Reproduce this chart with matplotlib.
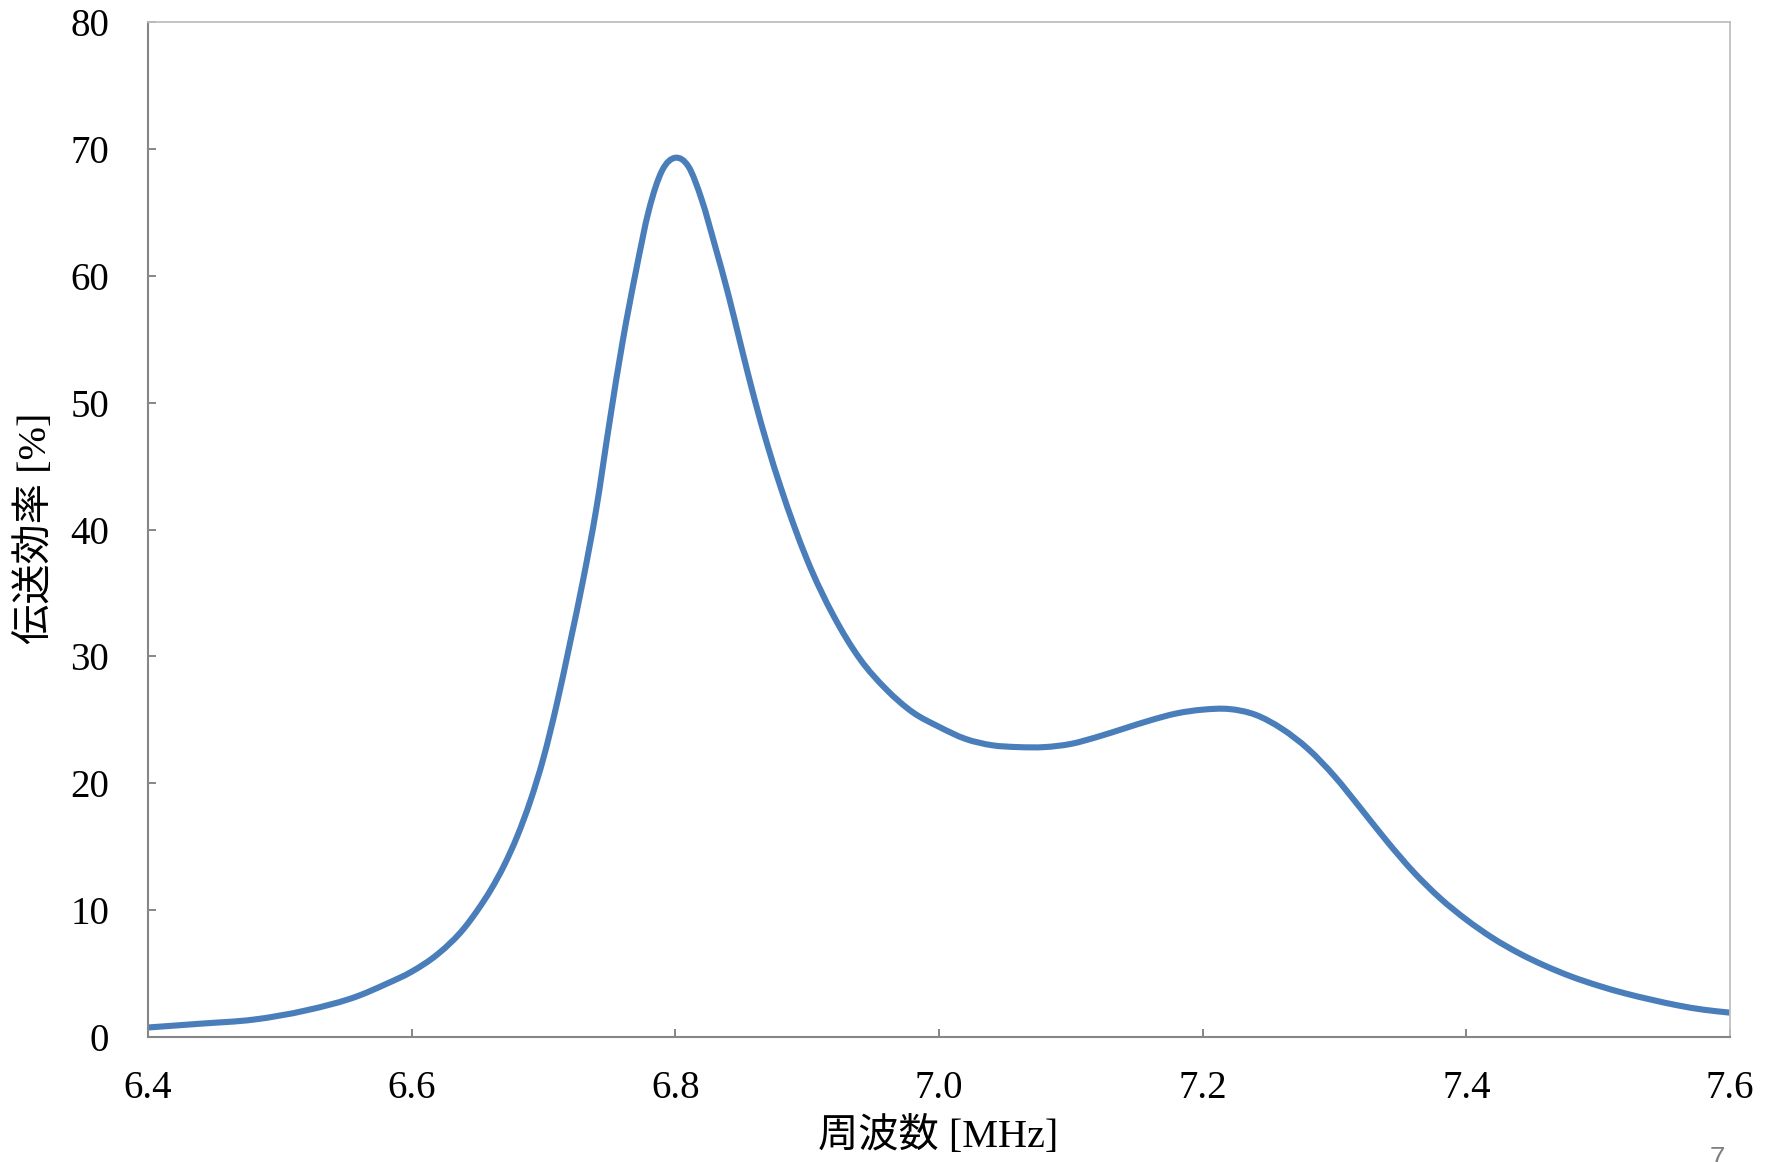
import matplotlib
matplotlib.use("Agg")
import matplotlib.pyplot as plt
import numpy as np
from matplotlib.patches import PathPatch
from matplotlib.path import Path
from matplotlib.ticker import FormatStrFormatter

# frequency [MHz] and transmission efficiency [%]
freq = [6.40, 6.44, 6.48, 6.52, 6.56, 6.58, 6.60, 6.62, 6.64, 6.65,
        6.66, 6.67, 6.68, 6.69, 6.70, 6.71, 6.72, 6.73, 6.74, 6.75,
        6.76, 6.77, 6.78, 6.79, 6.80, 6.81, 6.82, 6.83, 6.84, 6.85,
        6.86, 6.87, 6.88, 6.89, 6.90, 6.92, 6.94, 6.96, 6.98, 7.00,
        7.02, 7.04, 7.06, 7.08, 7.10, 7.12, 7.14, 7.16, 7.18, 7.20,
        7.22, 7.24, 7.26, 7.28, 7.30, 7.32, 7.34, 7.36, 7.38, 7.40,
        7.42, 7.44, 7.46, 7.48, 7.50, 7.52, 7.54, 7.56, 7.58, 7.60]
efficiency = [0.75, 1.05, 1.37, 2.1, 3.26, 4.15, 5.15, 6.55, 8.6, 10.0,
              11.6, 13.5, 15.8, 18.6, 22.0, 26.2, 31.0, 36.0, 41.6, 48.4,
              54.8, 60.3, 65.2, 68.3, 69.3, 68.6, 66.0, 62.4, 58.6, 54.4,
              50.3, 46.6, 43.3, 40.3, 37.6, 33.2, 29.8, 27.4, 25.6, 24.45,
              23.5, 23.0, 22.85, 22.85, 23.1, 23.65, 24.3, 24.95, 25.5, 25.8,
              25.85, 25.4, 24.3, 22.7, 20.55, 18.0, 15.4, 13.0, 10.95, 9.25,
              7.8, 6.6, 5.6, 4.75, 4.05, 3.45, 2.95, 2.5, 2.15, 1.92]

x_ticks = [6.4, 6.6, 6.8, 7.0, 7.2, 7.4, 7.6]
y_ticks = [0, 10, 20, 30, 40, 50, 60, 70, 80]

FONT = ["Liberation Serif", "Noto Sans CJK JP", "DejaVu Sans"]
plt.rcParams["font.family"] = FONT


def smooth_path(xs, ys):
    """Smoothed line like Excel's: cubic Bezier segments through every point,
    tangents from the neighbouring secants (handles uneven spacing)."""
    x = np.asarray(xs, dtype=float)
    y = np.asarray(ys, dtype=float)
    h = np.diff(x)
    d = np.diff(y) / h
    m = np.empty_like(y)
    m[0], m[-1] = d[0], d[-1]
    m[1:-1] = (d[:-1] * h[1:] + d[1:] * h[:-1]) / (h[:-1] + h[1:])
    verts = [(x[0], y[0])]
    codes = [Path.MOVETO]
    for i in range(len(x) - 1):
        k = h[i] / 3.0
        verts += [(x[i] + k, y[i] + k * m[i]),
                  (x[i + 1] - k, y[i + 1] - k * m[i + 1]),
                  (x[i + 1], y[i + 1])]
        codes += [Path.CURVE4] * 3
    return Path(verts, codes)


fig = plt.figure(figsize=(17.71, 11.62), dpi=100)
ax = fig.add_axes([148 / 1771, 1 - 1037 / 1162, 1582 / 1771, 1015 / 1162])

curve = PathPatch(smooth_path(freq, efficiency), facecolor="none",
                  edgecolor="#4a7ebb", lw=4.4, joinstyle="round",
                  capstyle="butt")
ax.add_patch(curve)

ax.set_xlim(6.4, 7.6)
ax.set_ylim(0, 80)
ax.set_xticks(x_ticks)
ax.set_yticks(y_ticks)
ax.xaxis.set_major_formatter(FormatStrFormatter("%.1f"))

for side in ("left", "bottom"):
    ax.spines[side].set_color("#868686")
    ax.spines[side].set_linewidth(1.5)
for side in ("top", "right"):
    ax.spines[side].set_color("#bfbfbf")
    ax.spines[side].set_linewidth(1.3)

ax.tick_params(axis="both", direction="in", length=6, width=1.4,
               color="#868686", labelsize=28, labelcolor="black")
ax.tick_params(axis="y", pad=28)
ax.tick_params(axis="x", pad=24)

fig.text(938 / 1771, 1 - 1137 / 1162, "周波数 [MHz]", fontsize=29,
         ha="center", va="center")
fig.text(36 / 1771, 1 - 528 / 1162, "伝送効率 [%]", fontsize=29,
         rotation=90, ha="center", va="center")

# slide page number, partly cut off at the bottom edge
fig.text(1717 / 1771, 1 - 1146 / 1162, "7", fontsize=20, color="#808080",
         family=["Liberation Sans"], ha="center", va="top")

fig.savefig("out.png", dpi=100)
